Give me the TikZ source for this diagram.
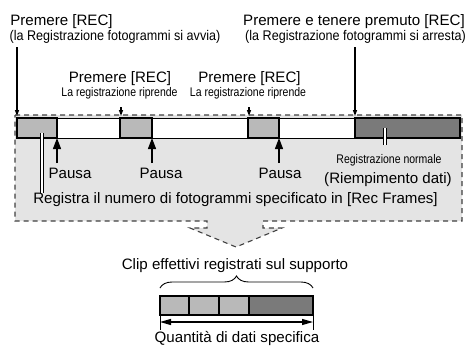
\documentclass[tikz,border=0pt]{standalone}
\usepackage{fontspec}
\setmainfont{Liberation Sans}
\newfontfamily\narrowfont[FakeStretch=0.9]{Liberation Sans}
\newfontfamily\condfont[FakeStretch=0.84]{Liberation Sans}
\usetikzlibrary{arrows.meta}
\usetikzlibrary{decorations.pathreplacing}
\definecolor{areagray}{RGB}{228,228,228}
\definecolor{framegray}{RGB}{185,185,185}
\definecolor{normgray}{RGB}{122,122,122}
\tikzset{txt/.style = {anchor = base, inner sep = 0, font = \fontsize{15.1}{18}\selectfont}}
\tikzset{smalltxt/.style = {anchor = base, inner sep = 0, font = \condfont\fontsize{12.5}{15}\selectfont}}
\tikzset{notetxt/.style = {anchor = base, inner sep = 0, font = \narrowfont\fontsize{14}{17}\selectfont}}
\tikzset{pressarrow/.style = {line width = 1.3pt, -{Triangle[length = 6pt, width = 4pt]}}}
\tikzset{pausearrow/.style = {line width = 1.3pt, -{Triangle[length = 11pt, width = 8pt]}}}
\tikzset{framebox/.style = {draw, line width = 1.8pt, fill = framegray}}
\tikzset{leader/.style = {double = white, double distance = 2pt, line width = 0.7pt}}

\begin{document}
\begin{tikzpicture}[x = 1pt, y = -1pt]
    \useasboundingbox (0,0) rectangle (467,346);
    % gray area, ending in an arrow
    \draw[dash pattern = on 5pt off 4pt, line width = 1.1pt, draw = black!75, fill = areagray]
        (15,115) -- (462,115) -- (462,221) -- (263,221) -- (263,228) -- (282,228)
        -- (236,247) -- (190,228) -- (207,228) -- (207,221) -- (15,221) -- cycle;
    % recording bar
    \draw[line width = 0.9pt, fill = white] (17,118) rectangle (460,138);
    \foreach \l/\r in {17/57, 120/152, 248/279} {
        \draw[framebox] (\l,118) rectangle (\r,138);
    }
    \draw[framebox, fill = normgray] (355,118) rectangle (460,138);
    % texts
    \node[txt] (rec1) at (61.5,25) {Premere [REC]};
    \node[notetxt] (go) at (115,40) {(la Registrazione fotogrammi si avvia)};
    \node[txt] (rec2) at (120,82) {Premere [REC]};
    \node[smalltxt] (res2) at (119.5,96) {La registrazione riprende};
    \node[txt] (rec3) at (249.5,82) {Premere [REC]};
    \node[smalltxt] (res3) at (248,96) {La registrazione riprende};
    \node[txt] (hold) at (354,25) {Premere e tenere premuto [REC]};
    \node[notetxt] (stop) at (355.5,40) {(la Registrazione fotogrammi si arresta)};
    \node[txt] (pause1) at (70,178) {Pausa};
    \node[txt] (pause2) at (161,178) {Pausa};
    \node[txt] (pause3) at (280,178) {Pausa};
    \node[smalltxt] (norm) at (389,163) {Registrazione normale};
    \node[txt] (fill) at (388,183) {(Riempimento dati)};
    \node[txt] (count) at (235.5,203) {Registra il numero di fotogrammi specificato in [Rec Frames]};
    \node[txt] (media) at (235,269) {Clip effettivi registrati sul supporto};
    \node[txt] (size) at (237,342.5) {Quantità di dati specifica};
    % key presses
    \foreach \n/\x/\y in {1/17/47, 2/121/107, 3/249/107, 4/355/47} {
        \coordinate (k\n) at (\x,\y);
        \coordinate (k\n') at (\x,116);
        \draw[pressarrow] (k\n) -- (k\n');
    }
    % pauses
    \foreach \n/\x in {1/57, 2/152, 3/279} {
        \coordinate (u\n) at (\x,163);
        \coordinate (u\n') at (\x,138);
        \draw[pausearrow] (u\n) -- (u\n');
    }
    % white leaders
    \coordinate (w1) at (42,133);
    \coordinate (w1') at (42,193);
    \coordinate (w2) at (385,128);
    \coordinate (w2') at (385,145);
    \draw[leader] (w1) -- (w1');
    \draw[leader] (w2) -- (w2');
    % clip on the media
    \foreach \l/\r in {160/189, 189/219, 219/249} {
        \draw[framebox] (\l,296) rectangle (\r,315);
    }
    \draw[framebox, fill = normgray] (249,296) rectangle (313,315);
    \coordinate (b) at (160,288);
    \coordinate (b') at (313,288);
    \draw[decorate, decoration = {brace, amplitude = 12pt}, line width = 0.9pt] (b) -- (b');
    \coordinate (d) at (160,322);
    \coordinate (d') at (313,322);
    \draw[line width = 0.9pt] (160,315) -- (160,330);
    \draw[line width = 0.9pt] (313,315) -- (313,330);
    \draw[line width = 1.2pt, {Triangle[length = 11pt, width = 6pt]}-{Triangle[length = 11pt, width = 6pt]}] (d) -- (d');
\end{tikzpicture}
\end{document}
